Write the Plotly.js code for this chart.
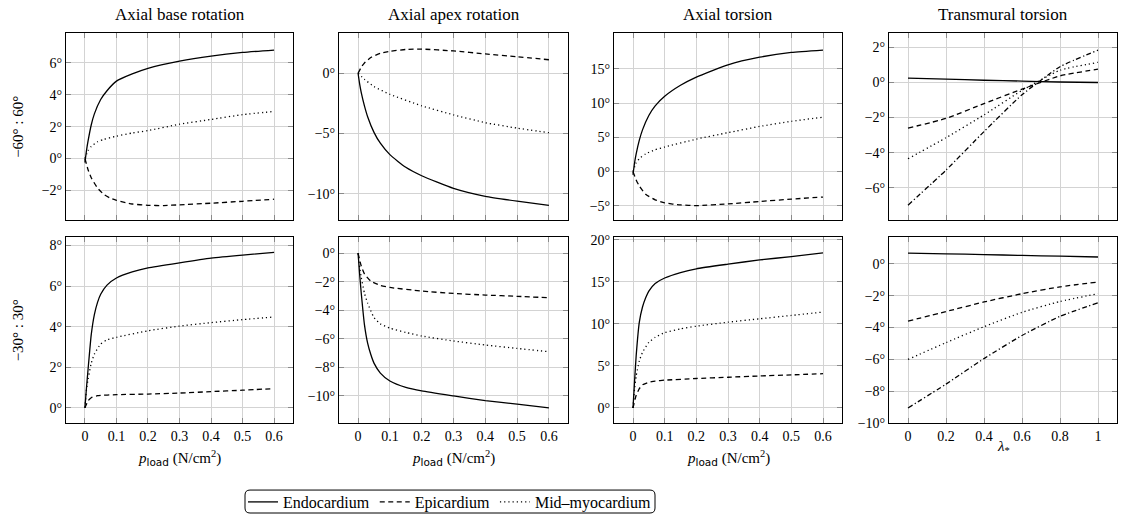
<!DOCTYPE html>
<html><head><meta charset="utf-8">
<script src="https://cdn.plot.ly/plotly-3.0.1.min.js"></script>
<style>html,body{margin:0;padding:0;background:#fff}#chart{width:1123px;height:519px}</style>
</head><body><div id="chart"></div>
<script>
// ---------- DATA ----------
const seriesNames = ["Endocardium", "Epicardium", "Mid–myocardium", "Fourth layer"];
const panelTitles = ["Axial base rotation", "Axial apex rotation", "Axial torsion", "Transmural torsion"];
const rowLabels = ["−60° : 60°", "−30° : 30°"];
const pTicks = [0, 0.1, 0.2, 0.3, 0.4, 0.5, 0.6];
const pTickText = ["0", "0.1", "0.2", "0.3", "0.4", "0.5", "0.6"];
const lambdaTicks = [0, 0.2, 0.4, 0.6, 0.8, 1];
const lambdaTickText = ["0", "0.2", "0.4", "0.6", "0.8", "1"];
const lambdaVals = [0, 0.2, 0.4, 0.6, 0.8, 1];

// Row 1: −60° : 60°
const b60EndoX = [0,0.005,0.01,0.02,0.03,0.05,0.07,0.1,0.15,0.2,0.3,0.4,0.5,0.6];
const b60EndoY = [-0.25,0.5,1.1,2.1,2.8,3.7,4.25,4.85,5.3,5.65,6.1,6.42,6.65,6.8];
const b60EpiX  = [0,0.01,0.02,0.04,0.06,0.08,0.1,0.15,0.2,0.25,0.3,0.4,0.5,0.6];
const b60EpiY  = [0,-0.7,-1.2,-1.85,-2.25,-2.48,-2.62,-2.85,-2.93,-2.95,-2.9,-2.8,-2.68,-2.55];
const b60MidX  = [0,0.01,0.02,0.04,0.06,0.1,0.15,0.2,0.3,0.4,0.5,0.6];
const b60MidY  = [0,0.5,0.75,1.05,1.2,1.4,1.6,1.75,2.15,2.45,2.75,2.95];

const a60EndoX = [0,0.005,0.01,0.02,0.03,0.05,0.07,0.1,0.15,0.2,0.3,0.4,0.5,0.6];
const a60EndoY = [0,-0.9,-1.6,-2.7,-3.6,-4.9,-5.8,-6.75,-7.8,-8.5,-9.55,-10.2,-10.6,-10.95];
const a60EpiX  = [0,0.01,0.02,0.04,0.07,0.1,0.15,0.2,0.3,0.4,0.5,0.6];
const a60EpiY  = [0,0.5,0.85,1.3,1.65,1.82,1.97,2.0,1.85,1.6,1.37,1.12];
const a60MidX  = [0,0.02,0.05,0.1,0.2,0.3,0.4,0.5,0.6];
const a60MidY  = [0,-0.5,-1.1,-1.75,-2.7,-3.45,-4.1,-4.55,-4.93];

const t60EndoX = [0,0.005,0.01,0.02,0.03,0.05,0.07,0.1,0.15,0.2,0.3,0.4,0.5,0.6];
const t60EndoY = [-0.45,1.3,2.6,4.6,6.1,8.2,9.6,11.0,12.6,13.8,15.6,16.7,17.4,17.75];
const t60EpiX  = [0,0.01,0.02,0.04,0.07,0.1,0.15,0.2,0.3,0.4,0.5,0.6];
const t60EpiY  = [0,-1.2,-2.1,-3.3,-4.1,-4.55,-4.85,-4.95,-4.7,-4.35,-4.0,-3.7];
const t60MidX  = [0,0.01,0.02,0.04,0.07,0.1,0.2,0.3,0.4,0.5,0.6];
const t60MidY  = [0,1.3,1.9,2.6,3.2,3.6,4.75,5.7,6.6,7.35,7.95];

const tr60Endo   = [0.25,0.19,0.13,0.08,0.03,0.0];
const tr60Epi    = [-2.6,-2.05,-1.2,-0.38,0.38,0.76];
const tr60Mid    = [-4.35,-3.15,-1.85,-0.45,0.7,1.15];
const tr60Fourth = [-7.0,-5.0,-2.8,-0.7,0.9,1.85];

// Row 2: −30° : 30°
const b30EndoX = [0,0.005,0.01,0.02,0.03,0.04,0.05,0.07,0.1,0.15,0.2,0.3,0.4,0.5,0.6];
const b30EndoY = [0,1.0,1.9,3.6,4.6,5.2,5.6,6.05,6.4,6.7,6.9,7.15,7.38,7.53,7.66];
const b30EpiX  = [0,0.01,0.02,0.04,0.1,0.2,0.3,0.4,0.5,0.6];
const b30EpiY  = [0,0.35,0.5,0.6,0.65,0.68,0.73,0.8,0.87,0.95];
const b30MidX  = [0,0.005,0.01,0.02,0.03,0.05,0.07,0.1,0.2,0.3,0.4,0.5,0.6];
const b30MidY  = [0,0.9,1.4,2.2,2.65,3.15,3.35,3.48,3.8,4.03,4.2,4.35,4.48];

const a30EndoX = [0,0.005,0.01,0.02,0.03,0.04,0.05,0.07,0.1,0.15,0.2,0.3,0.4,0.5,0.6];
const a30EndoY = [0,-1.5,-2.8,-5.0,-6.3,-7.1,-7.7,-8.4,-8.95,-9.4,-9.65,-10.0,-10.33,-10.58,-10.83];
const a30EpiX  = [0,0.01,0.02,0.04,0.07,0.1,0.2,0.3,0.4,0.5,0.6];
const a30EpiY  = [0,-0.9,-1.45,-1.95,-2.25,-2.4,-2.65,-2.82,-2.93,-3.02,-3.12];
const a30MidX  = [0,0.005,0.01,0.02,0.03,0.05,0.07,0.1,0.15,0.2,0.3,0.4,0.5,0.6];
const a30MidY  = [0,-1.0,-1.7,-2.8,-3.5,-4.5,-4.95,-5.25,-5.55,-5.8,-6.15,-6.43,-6.67,-6.9];

const t30EndoX = [0,0.005,0.01,0.02,0.03,0.04,0.05,0.07,0.1,0.15,0.2,0.3,0.4,0.5,0.6];
const t30EndoY = [0,3.2,6.2,10.2,12.0,13.1,13.9,14.8,15.45,16.1,16.55,17.1,17.6,18.0,18.45];
const t30EpiX  = [0,0.01,0.02,0.03,0.05,0.07,0.1,0.2,0.3,0.4,0.5,0.6];
const t30EpiY  = [0,1.5,2.3,2.75,3.05,3.2,3.3,3.5,3.65,3.8,3.93,4.07];
const t30MidX  = [0,0.005,0.01,0.02,0.03,0.05,0.07,0.1,0.15,0.2,0.3,0.4,0.5,0.6];
const t30MidY  = [0,2.3,3.8,5.6,6.6,7.8,8.4,8.95,9.4,9.72,10.2,10.6,11.0,11.4];

const tr30Endo   = [0.67,0.62,0.57,0.52,0.47,0.42];
const tr30Epi    = [-3.6,-3.0,-2.4,-1.88,-1.45,-1.15];
const tr30Mid    = [-6.0,-4.95,-3.95,-3.05,-2.37,-1.88];
const tr30Fourth = [-9.05,-7.55,-5.95,-4.5,-3.3,-2.45];

const yTicks = [
  [-2,0,2,4,6], [-10,-5,0], [-5,0,5,10,15], [-6,-4,-2,0,2],
  [0,2,4,6,8], [-10,-8,-6,-4,-2,0], [0,5,10,15,20], [-10,-8,-6,-4,-2,0]
];
const yTickText = [
  ["−2°","0°","2°","4°","6°"], ["−10°","−5°","0°"], ["−5°","0°","5°","10°","15°"], ["−6°","−4°","−2°","0°","2°"],
  ["0°","2°","4°","6°","8°"], ["−10°","−8°","−6°","−4°","−2°","0°"], ["0°","5°","10°","15°","20°"], ["−10°","−8°","−6°","−4°","−2°","0°"]
];

// ---------- LAYOUT / STYLE ----------
const W = 1123, H = 519;
const colPx = [[66,293],[339,568],[614,842],[889,1117]];
const rowPx = [[33.5,220.7],[237.7,424.3]];
const yRanges = [[-3.87,7.84],[-12.19,3.3],[-7.09,20.17],[-7.86,2.8],
                 [-0.77,8.41],[-11.93,1.12],[-1.85,20.3],[-10.02,1.66]];
const dashes = ["solid", "5px,3.5px", "1.2px,3px", "5px,2.5px,1.2px,2.5px"];
const serif = "'Liberation Serif', 'DejaVu Serif', 'Times New Roman', serif";

const panelSeries = [
  [[b60EndoX,b60EndoY],[b60EpiX,b60EpiY],[b60MidX,b60MidY]],
  [[a60EndoX,a60EndoY],[a60EpiX,a60EpiY],[a60MidX,a60MidY]],
  [[t60EndoX,t60EndoY],[t60EpiX,t60EpiY],[t60MidX,t60MidY]],
  [[lambdaVals,tr60Endo],[lambdaVals,tr60Epi],[lambdaVals,tr60Mid],[lambdaVals,tr60Fourth]],
  [[b30EndoX,b30EndoY],[b30EpiX,b30EpiY],[b30MidX,b30MidY]],
  [[a30EndoX,a30EndoY],[a30EpiX,a30EpiY],[a30MidX,a30MidY]],
  [[t30EndoX,t30EndoY],[t30EpiX,t30EpiY],[t30MidX,t30MidY]],
  [[lambdaVals,tr30Endo],[lambdaVals,tr30Epi],[lambdaVals,tr30Mid],[lambdaVals,tr30Fourth]]
];

const traces = [];
const layout = {
  width: W, height: H,
  margin: {l:0, r:0, t:0, b:0},
  paper_bgcolor: "#fff", plot_bgcolor: "#fff",
  font: {family: serif, size: 14, color: "#000"},
  showlegend: true,
  legend: {
    orientation: "h", x: 450/W, xanchor: "center", y: 1 - 502.5/H, yanchor: "middle",
    borderwidth: 0, bgcolor: "rgba(0,0,0,0)",
    font: {family: serif, size: 16, color: "#000"}, itemwidth: 30, tracegroupgap: 0
  },
  annotations: [], shapes: []
};

for (let i = 0; i < 8; i++) {
  const row = Math.floor(i / 4), col = i % 4;
  const sfx = i === 0 ? "" : String(i + 1);
  const isLambda = col === 3;
  panelSeries[i].forEach((s, k) => {
    traces.push({
      type: "scatter", mode: "lines", x: s[0], y: s[1],
      xaxis: "x" + sfx, yaxis: "y" + sfx,
      name: seriesNames[k], legendgroup: seriesNames[k],
      showlegend: i === 0 && k < 3,
      line: {color: "#000", width: 1.3, dash: dashes[k], shape: "spline", smoothing: 0.5},
      hoverinfo: "skip"
    });
  });
  const common = {
    showline: true, linecolor: "#000", linewidth: 1, mirror: "ticks",
    ticks: "inside", ticklen: 5, tickcolor: "#8a8a8a", tickwidth: 1,
    showgrid: true, gridcolor: "#d3d3d3", gridwidth: 1, zeroline: false,
    tickfont: {family: serif, size: 14, color: "#000"}, fixedrange: true
  };
  layout["xaxis" + sfx] = Object.assign({}, common, {
    domain: [colPx[col][0]/W, colPx[col][1]/W],
    range: isLambda ? [-0.1, 1.1] : [-0.06, 0.66],
    tickmode: "array",
    tickvals: isLambda ? lambdaTicks : pTicks,
    ticktext: isLambda ? lambdaTickText : pTickText,
    showticklabels: row === 1,
    anchor: "y" + sfx
  });
  layout["yaxis" + sfx] = Object.assign({}, common, {
    domain: [1 - rowPx[row][1]/H, 1 - rowPx[row][0]/H],
    range: yRanges[i],
    tickmode: "array", tickvals: yTicks[i], ticktext: yTickText[i],
    anchor: "x" + sfx
  });
  if (row === 0) {
    layout.annotations.push({
      text: panelTitles[col], xref: "paper", yref: "paper",
      x: (colPx[col][0] + colPx[col][1]) / 2 / W, y: 1 - 15/H,
      xanchor: "center", yanchor: "middle", showarrow: false,
      font: {family: serif, size: 17, color: "#000"}
    });
  } else {
    layout.annotations.push({
      text: isLambda ? "<i>λ</i><sub>*</sub>" :
        "<i>p</i><sub><span style=\"font-family:'DejaVu Sans'\">load</span></sub> (N/cm<sup>2</sup>)",
      xref: "paper", yref: "paper",
      x: (colPx[col][0] + colPx[col][1]) / 2 / W, y: 1 - (isLambda ? 448 : 459)/H,
      xanchor: "center", yanchor: "middle", showarrow: false,
      font: {family: serif, size: 15, color: "#000"}
    });
  }
}
rowLabels.forEach((t, r) => {
  layout.annotations.push({
    text: t, xref: "paper", yref: "paper",
    x: 18/W, y: 1 - (rowPx[r][0] + rowPx[r][1]) / 2 / H,
    xanchor: "center", yanchor: "middle", textangle: -90, showarrow: false,
    font: {family: serif, size: 15, color: "#000"}
  });
});

const gdiv = document.getElementById("chart");
Plotly.newPlot(gdiv, traces, layout, {displayModeBar: false, staticPlot: true}).then(gd => {
  // rounded frame around the legend, sized from the rendered legend
  const bg = gd.querySelector(".legend .bg");
  if (!bg) return;
  const r = bg.getBoundingClientRect(), c = gd.getBoundingClientRect();
  const x0 = r.left - c.left + 2, x1 = r.right - c.left - 2;
  const y0 = 491, y1 = 514, rad = 5;
  const px = v => (v / W).toFixed(5), py = v => (1 - v / H).toFixed(5);
  const path = "M " + px(x0 + rad) + "," + py(y0) +
    " L " + px(x1 - rad) + "," + py(y0) +
    " Q " + px(x1) + "," + py(y0) + " " + px(x1) + "," + py(y0 + rad) +
    " L " + px(x1) + "," + py(y1 - rad) +
    " Q " + px(x1) + "," + py(y1) + " " + px(x1 - rad) + "," + py(y1) +
    " L " + px(x0 + rad) + "," + py(y1) +
    " Q " + px(x0) + "," + py(y1) + " " + px(x0) + "," + py(y1 - rad) +
    " L " + px(x0) + "," + py(y0 + rad) +
    " Q " + px(x0) + "," + py(y0) + " " + px(x0 + rad) + "," + py(y0) + " Z";
  return Plotly.relayout(gd, {shapes: [{type: "path", xref: "paper", yref: "paper", path: path,
    line: {color: "#000", width: 1}, fillcolor: "rgba(0,0,0,0)", layer: "above"}]});
});
</script></body></html>
